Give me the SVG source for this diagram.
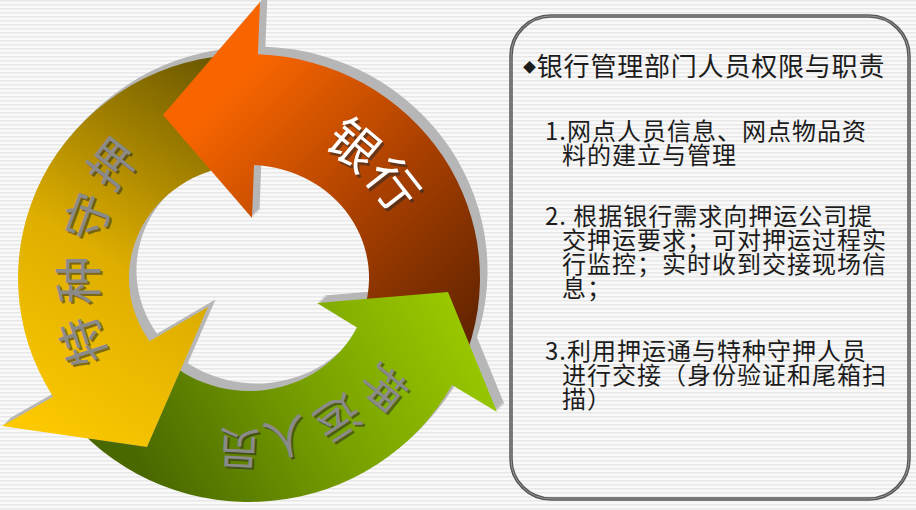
<svg xmlns="http://www.w3.org/2000/svg" width="916" height="510" viewBox="0 0 916 510">
<style>
.cjk{font-family:"Noto Sans CJK SC","Noto Sans",sans-serif;}
.ring{font-family:"Noto Sans CJK SC",sans-serif;text-anchor:middle;dominant-baseline:central;}
.wl{fill:#ffffff;}
.gl{fill:#8a8a8a;}
.sh{fill:#2a2a2a;opacity:0.55;}
.body{font-size:24px;fill:#1c1c1c;letter-spacing:1px;}
.depth{fill:#b6b6b6;}
</style>
<defs>
<pattern id="stripes" width="4" height="4" patternUnits="userSpaceOnUse">
<rect width="4" height="4" fill="#f9f9f9"/>
<rect width="4" height="1.5" fill="#e8e8e8"/>
</pattern>
<linearGradient id="gB" gradientUnits="userSpaceOnUse" x1="230" y1="90" x2="480" y2="340">
<stop offset="0" stop-color="#f86500"/><stop offset="0.5" stop-color="#a94000"/><stop offset="1" stop-color="#5e2200"/>
</linearGradient>
<linearGradient id="gY" gradientUnits="userSpaceOnUse" x1="40" y1="430" x2="250" y2="90">
<stop offset="0" stop-color="#fcc800"/><stop offset="0.45" stop-color="#deae00"/><stop offset="1" stop-color="#6e5a00"/>
</linearGradient>
<linearGradient id="gG" gradientUnits="userSpaceOnUse" x1="470" y1="300" x2="150" y2="480">
<stop offset="0" stop-color="#9ccc00"/><stop offset="0.5" stop-color="#78a000"/><stop offset="1" stop-color="#4a6800"/>
</linearGradient>
<path id="pY" d="M228.9,54.9 A231,224 0 0 0 53.1,396.7 L2,426 L147,447 L208,307 L149.5,341.2 A120,113 0 0 1 238.5,165.4 Z"/>
<path id="pB" d="M463.2,361.9 A231,224 0 0 0 257.9,54.2 L260,2 L163,115 L252,218 L254,165.1 A120,113 0 0 1 360.3,320.3 Z"/>
<path id="pG" d="M72.1,422 A231,224 0 0 0 452,384.9 L497,412 L448,292 L317,303 L356.9,327.5 A120,113 0 0 1 157.1,350.6 Z"/>
<clipPath id="cutYH">
<path clip-rule="evenodd" d="M-10,-10 H926 V520 H-10 Z M2,426 L147,447 L208,307 Z"/>
</clipPath>
</defs>

<rect width="916" height="510" fill="url(#stripes)"/>

<g id="depth" class="depth">
<use href="#pY" transform="translate(1.5,-1.5)"/><use href="#pY" transform="translate(3,-3)"/><use href="#pY" transform="translate(4.5,-4.5)"/><use href="#pY" transform="translate(6,-6)"/><use href="#pY" transform="translate(7.5,-7.5)"/>
<use href="#pB" transform="translate(1.5,-1.5)"/><use href="#pB" transform="translate(3,-3)"/><use href="#pB" transform="translate(4.5,-4.5)"/><use href="#pB" transform="translate(6,-6)"/><use href="#pB" transform="translate(7.5,-7.5)"/>
<use href="#pG" transform="translate(1.5,-1.5)"/><use href="#pG" transform="translate(3,-3)"/><use href="#pG" transform="translate(4.5,-4.5)"/><use href="#pG" transform="translate(6,-6)"/><use href="#pG" transform="translate(7.5,-7.5)"/>
</g>

<g id="node-teshong">
<use href="#pY" fill="url(#gY)"/>
<g class="ring" font-size="48">
<text class="sh" transform="translate(112,164) rotate(-52)">押</text>
<text class="gl" transform="translate(110,162) rotate(-52)">押</text>
<text class="sh" transform="translate(87,218) rotate(-70)">守</text>
<text class="gl" transform="translate(85,216) rotate(-70)">守</text>
<text class="sh" transform="translate(77,282) rotate(-90)">种</text>
<text class="gl" transform="translate(75,280) rotate(-90)">种</text>
<text class="sh" transform="translate(82,344) rotate(-108)">特</text>
<text class="gl" transform="translate(80,342) rotate(-108)">特</text>
</g>
</g>

<g id="node-yinhang">
<use href="#pB" fill="url(#gB)"/>
<g class="ring" font-size="50">
<text class="sh" transform="translate(358,145) rotate(40)">银</text>
<text class="wl" transform="translate(356,142) rotate(40)">银</text>
<text class="sh" transform="translate(398,185) rotate(52)">行</text>
<text class="wl" transform="translate(396,182) rotate(52)">行</text>
</g>
</g>

<g id="node-yayun">
<use href="#pG" fill="url(#gG)" clip-path="url(#cutYH)"/>
<g class="ring" font-size="44">
<text class="sh" transform="translate(388,391) rotate(129)">押</text>
<text class="gl" transform="translate(386,389) rotate(129)">押</text>
<text class="sh" transform="translate(342,423) rotate(147)">运</text>
<text class="gl" transform="translate(340,421) rotate(147)">运</text>
<text class="sh" transform="translate(289,442) rotate(166)">人</text>
<text class="gl" transform="translate(287,440) rotate(166)">人</text>
<text class="sh" transform="translate(241,453) rotate(183)">员</text>
<text class="gl" transform="translate(239,451) rotate(183)">员</text>
</g>
</g>

<g id="connectors"></g>

<g id="panel">
<rect x="511" y="16" width="398" height="483" rx="40" ry="40" fill="none" stroke="#555" stroke-width="3.5"/>
<rect x="511" y="16" width="398" height="483" rx="40" ry="40" fill="none" stroke="#a8a8a8" stroke-width="0.8"/>
<text class="cjk" x="523" y="76" font-size="26" fill="#1c1c1c" letter-spacing="0.8"><tspan font-size="13" dy="-4">◆</tspan><tspan dy="4">银行管理部门人员权限与职责</tspan></text>
<g class="cjk body">
<text x="545" y="140">1.网点人员信息、网点物品资<tspan x="562" dy="24">料的建立与管理</tspan></text>
<text x="545" y="225">2. 根据银行需求向押运公司提<tspan x="562" dy="24">交押运要求；可对押运过程实</tspan><tspan x="562" dy="24">行监控；实时收到交接现场信</tspan><tspan x="562" dy="24">息；</tspan></text>
<text x="545" y="360">3.利用押运通与特种守押人员<tspan x="562" dy="24">进行交接（身份验证和尾箱扫</tspan><tspan x="562" dy="24">描）</tspan></text>
</g>
</g>
</svg>
